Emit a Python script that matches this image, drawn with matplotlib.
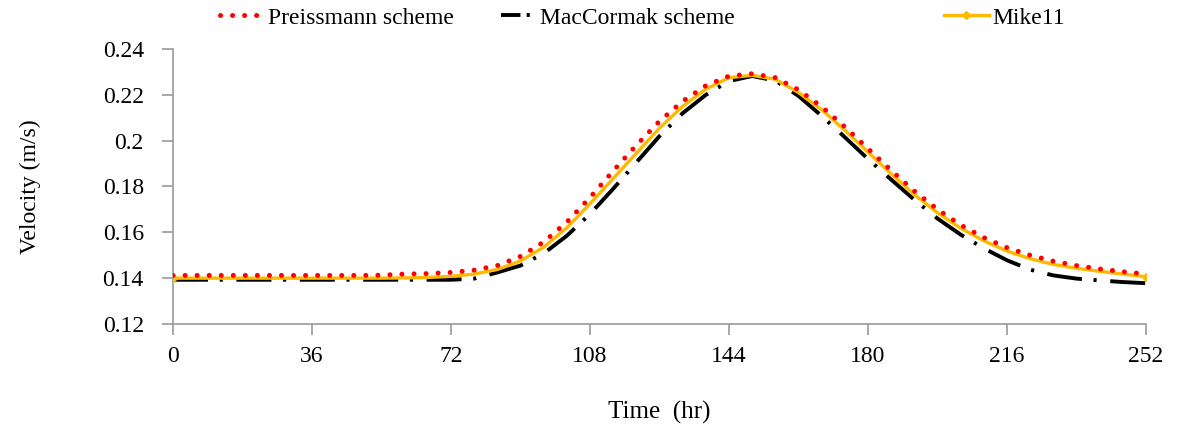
import matplotlib
matplotlib.use('Agg')
import matplotlib.pyplot as plt
from matplotlib.lines import Line2D
from matplotlib.ticker import FuncFormatter

plt.rcParams['font.family'] = ['Liberation Serif', 'DejaVu Serif']

# time (hr), every 6 hours
t = [0, 6, 12, 18, 24, 30, 36, 42, 48, 54, 60, 66, 72, 78, 84, 90, 96, 102, 108,
     114, 120, 126, 132, 138, 144, 150, 156, 162, 168, 174, 180, 186, 192, 198,
     204, 210, 216, 222, 228, 234, 240, 246, 252]

preissmann = [0.1412, 0.1412, 0.1412, 0.1412, 0.1412, 0.1412, 0.1412, 0.1412, 0.1412,
              0.1413, 0.1418, 0.1420, 0.1425, 0.1435, 0.1455, 0.1495, 0.1558, 0.1645,
              0.1752, 0.1868, 0.1980, 0.2085, 0.2172, 0.2240, 0.2282, 0.2292, 0.2275,
              0.2222, 0.2148, 0.2060, 0.1965, 0.1870, 0.1780, 0.1700, 0.1632, 0.1577,
              0.1533, 0.1500, 0.1474, 0.1455, 0.1440, 0.1428, 0.1418]

maccormak = [0.1393, 0.1393, 0.1393, 0.1393, 0.1393, 0.1393, 0.1393, 0.1393, 0.1393,
             0.1393, 0.1393, 0.1393, 0.1393, 0.1398, 0.1425, 0.1455, 0.1508, 0.1585,
             0.1680, 0.1790, 0.1905, 0.2020, 0.2120, 0.2200, 0.2260, 0.2282, 0.2262,
             0.2195, 0.2108, 0.2015, 0.1920, 0.1830, 0.1742, 0.1660, 0.1590, 0.1530,
             0.1478, 0.1437, 0.1412, 0.1398, 0.1390, 0.1383, 0.1378]

mike11 = [0.1400, 0.1400, 0.1400, 0.1400, 0.1400, 0.1400, 0.1400, 0.1400, 0.1400,
          0.1400, 0.1401, 0.1403, 0.1408, 0.1418, 0.1438, 0.1475, 0.1535, 0.1620,
          0.1725, 0.1835, 0.1945, 0.2055, 0.2150, 0.2225, 0.2275, 0.2285, 0.2268,
          0.2210, 0.2135, 0.2045, 0.1950, 0.1855, 0.1765, 0.1685, 0.1618, 0.1563,
          0.1518, 0.1485, 0.1460, 0.1443, 0.1430, 0.1418, 0.1406]

xticks = [0, 36, 72, 108, 144, 180, 216, 252]
yticks = [0.12, 0.14, 0.16, 0.18, 0.2, 0.22, 0.24]

fig = plt.figure(figsize=(11.81, 4.36), dpi=100)
ax = fig.add_axes([0.1465, 0.2569, 0.8239, 0.6307])

red = '#FF0000'
orange = '#FFB900'

l2, = ax.plot(t, maccormak, color='black', lw=2.8, dashes=(9, 3, 0.8, 3.5), zorder=2)
l3, = ax.plot(t, mike11, color=orange, lw=2.4, marker='D', markersize=4.5,
              markevery=[0, len(t) - 1], zorder=3)
l1, = ax.plot(t, preissmann, color=red, lw=3.6, linestyle=(0, (0.01, 2.4)),
              dash_capstyle='round', zorder=4)

# shorter dash-dot for the legend key
l2_key = Line2D([], [], color='black', lw=2.8, dashes=(5, 1.6, 0.8, 2))

ax.set_xlim(0, 252)
ax.set_ylim(0.12, 0.24)
ax.set_xticks(xticks)
ax.set_yticks(yticks)
ax.yaxis.set_major_formatter(FuncFormatter(lambda v, p: ('%.2f' % v).rstrip('0')))

for s in ['top', 'right']:
    ax.spines[s].set_visible(False)
for s in ['left', 'bottom']:
    ax.spines[s].set_color('#9a9a9a')
    ax.spines[s].set_linewidth(1.2)
ax.tick_params(axis='both', direction='out', length=8, width=1.2, color='#9a9a9a',
               labelsize=17)
ax.tick_params(axis='y', pad=13)
ax.tick_params(axis='x', pad=8)

ax.set_xlabel('Time  (hr)', fontsize=18, labelpad=24)
ax.set_ylabel('Velocity (m/s)', fontsize=17, labelpad=44)

# legend entries placed separately like the original
entries = [(l1, 'Preissmann scheme', 220, 1.9), (l2_key, 'MacCormak scheme', 501, 1.5),
           (l3, 'Mike11', 944, 1.9)]
for h, lab, xp, hl in entries:
    leg = fig.legend([h], [lab], loc='center left', bbox_to_anchor=(xp / 1181, 1 - 18 / 436),
                     frameon=False, fontsize=17, handlelength=hl, handletextpad=0.15,
                     borderpad=0, borderaxespad=0)

fig.savefig('out.png', dpi=100)
